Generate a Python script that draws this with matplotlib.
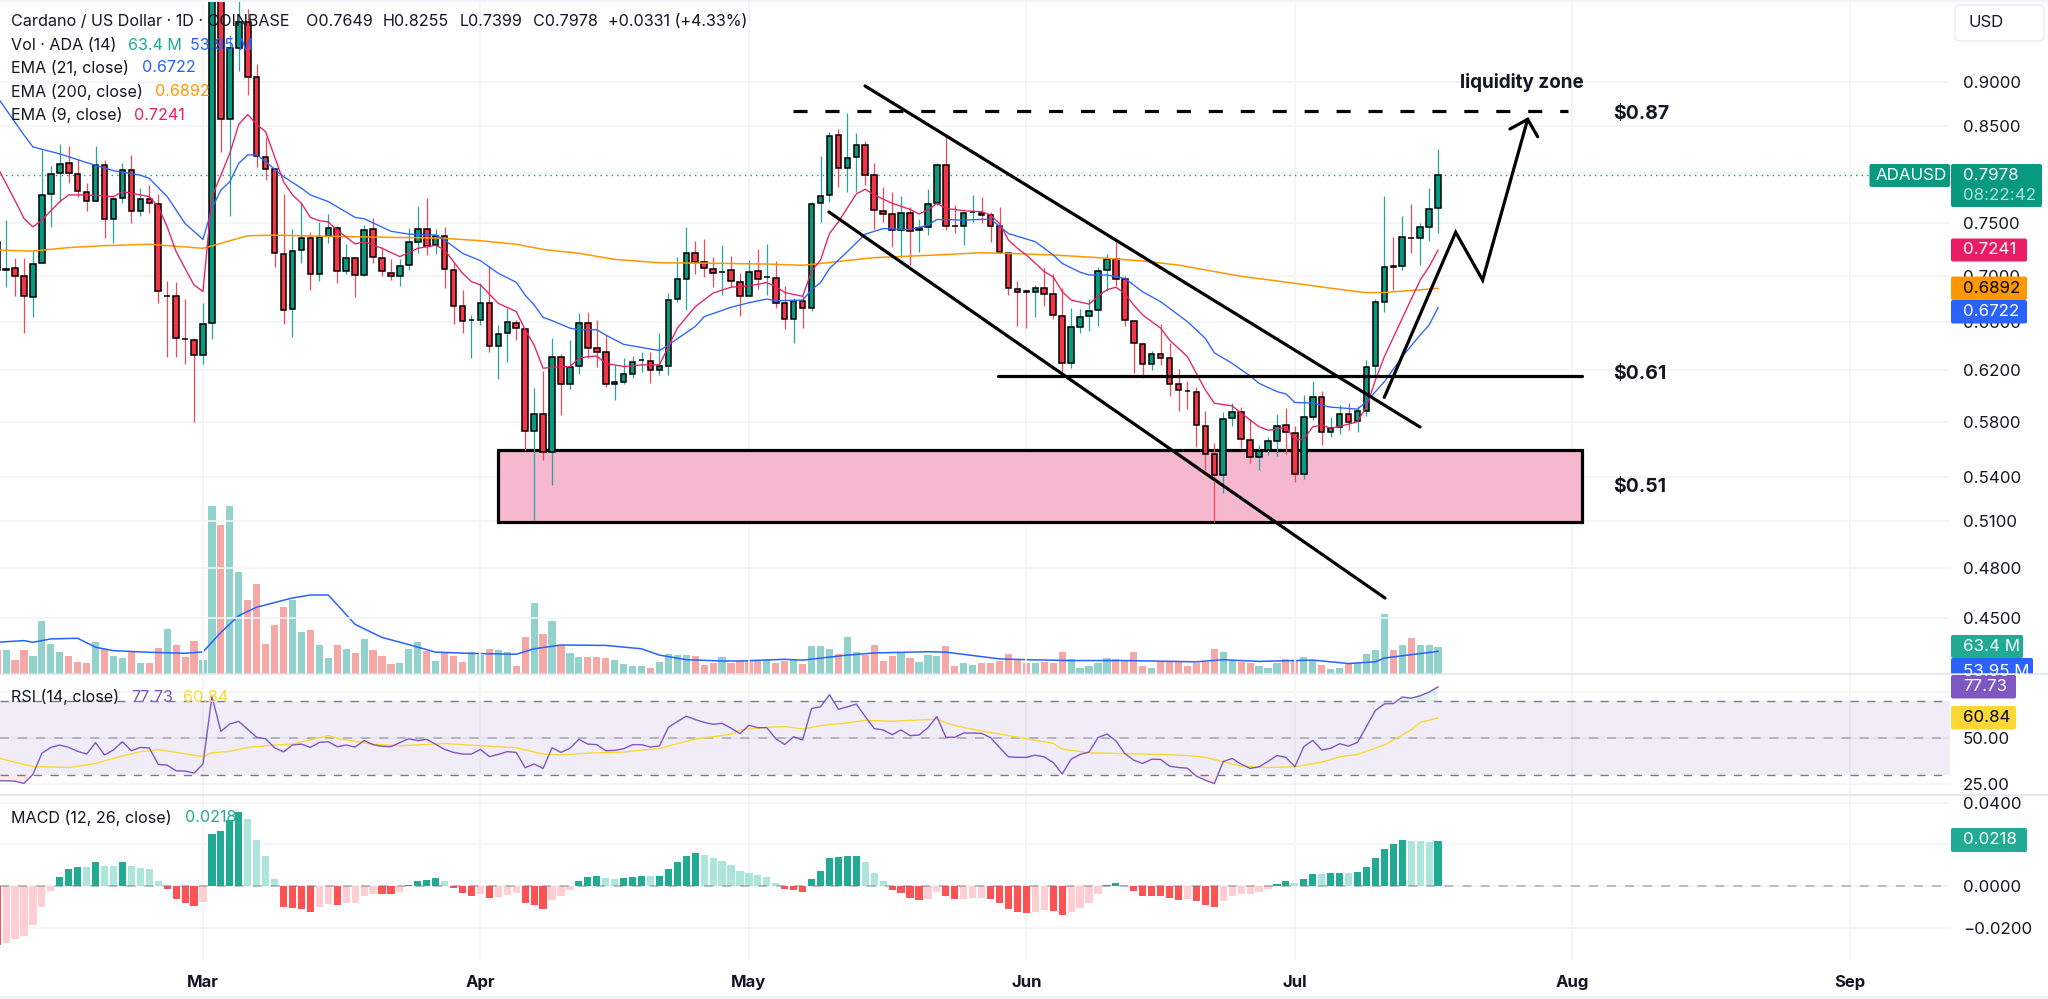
import numpy as np
import matplotlib
matplotlib.use('Agg')
import matplotlib.pyplot as plt
from matplotlib.patches import FancyBboxPatch, Rectangle

plt.rcParams['font.family'] = ['Inter', 'DejaVu Sans']

# days are counted from 1 Mar, first candle is 23 days before
first_day = -23
month_days = [0, 31, 61, 92, 122, 153, 184]
month_names = ['Mar', 'Apr', 'May', 'Jun', 'Jul', 'Aug', 'Sep']

opens = [.7320, .7060, .7071, .7002, .6815, .7118, .7784, .8003, .8105, .7988,
         .7804, .7713, .8085, .7534, .7743, .8030, .7617, .7733, .7686, .6826,
         .6820, .6458, .6443, .6322, .6590, 1.07, .8574, .9403, .9731, .9056,
         .8172, .8047, .7205, .6710, .7239, .7352, .7021, .7373, .7456, .7046,
         .7171, .7012, .7440, .7171, .7034, .7006, .7102, .7314, .7440, .7289,
         .7378, .7059, .6738, .6615, .6612, .6765, .6399, .6502, .6593, .6540,
         .5732, .5857, .5579, .6309, .6090, .6234, .6593, .6377, .6350, .6088,
         .6108, .6168, .6281, .6273, .6200, .6237, .6800, .6980, .7214, .7127,
         .7065, .7040, .7056, .6952, .6821, .7050, .6992, .6983, .6760, .6621,
         .6782, .6717, .7693, .7773, .8407, .8055, .8168, .8292, .7981, .7620,
         .7584, .7430, .7597, .7430, .7462, .7693, .8089, .7471, .7467, .7607,
         .7600, .7577, .7469, .7214, .6884, .6865, .6861, .6893, .6841, .6649,
         .6259, .6552, .6647, .6703, .7053, .7158, .6972, .6610, .6415, .6248,
         .6330, .6295, .6087, .6036, .6028, .5770, .5560, .5416, .5825, .5875,
         .5666, .5543, .5592, .5654, .5775, .5717, .5423, .5837, .5991, .5725,
         .5757, .5857, .5802, .5883, .6237, .6774, .7093, .7091, .7358, .7352,
         .7465, .7649]
highs = [.7400, .7528, .7165, .7165, .7242, .8237, .8075, .8306, .8285, .8143,
         .7895, .8285, .8136, .7760, .8109, .8190, .7845, .7880, .7787, .6957,
         .6949, .6794, .6460, .6759, 1.17, 1.19, .9566, 1.02, .9890, .9212,
         .8385, .8050, .7787, .7443, .7693, .7414, .7511, .7587, .7469, .7299,
         .7180, .7477, .7548, .7274, .7155, .7155, .7456, .7667, .7743, .7440,
         .7459, .7118, .6879, .6657, .6937, .7093, .6573, .6717, .6615, .6545,
         .6056, .6194, .6460, .6330, .6446, .6673, .6688, .6615, .6488, .6242,
         .6295, .6317, .6344, .6344, .6507, .6850, .7180, .7459, .7330, .7348,
         .7180, .7289, .7186, .7030, .7149, .7251, .7299, .7136, .6914, .6803,
         .6821, .7703, .8183, .8440, .8464, .8648, .8421, .8338, .8102, .7852,
         .7811, .7767, .7653, .7538, .7838, .8109, .8403, .7673, .7600, .7777,
         .7753, .7610, .7653, .7217, .6954, .6879, .6922, .7071, .7024, .6893,
         .6723, .6708, .6797, .7081, .7205, .7320, .7000, .6615, .6424, .6358,
         .6582, .6424, .6212, .6116, .6069, .5880, .5645, .5872, .5940, .5910,
         .5817, .5628, .5689, .5860, .5905, .5767, .6002, .6116, .6038, .5837,
         .5927, .5945, .5920, .6278, .6794, .7767, .7367, .7568, .7686, .7495,
         .7848, .8255]
lows = [.7000, .6908, .6821, .6509, .6644, .7118, .7462, .7710, .7900, .7753,
        .7620, .7713, .7352, .7311, .7700, .7503, .7568, .7594, .6759, .6303,
        .6303, .6250, .5795, .6250, .6452, .8226, .7568, .9132, .8848, .8068,
        .7928, .7084, .6583, .6474, .7120, .6879, .6960, .7311, .6943, .7018,
        .6811, .7003, .7118, .7000, .6966, .6917, .7059, .7211, .7196, .7205,
        .6893, .6581, .6509, .6295, .6573, .6350, .6131, .6268, .6446, .5592,
        .5107, .5519, .5343, .5850, .6053, .6168, .6295, .6229, .6069, .5965,
        .6090, .6135, .6186, .6095, .6160, .6160, .6773, .6703, .7018, .6995,
        .6908, .6830, .6902, .6650, .6821, .6888, .6830, .6717, .6538, .6424,
        .6549, .6697, .7511, .7703, .7855, .7811, .7811, .7877, .7440, .7508,
        .7274, .7180, .7102, .7224, .7383, .7673, .7433, .7405, .7293, .7508,
        .7495, .7320, .7211, .6830, .6568, .6546, .6637, .6738, .6621, .6186,
        .6215, .6502, .6524, .6568, .6865, .6914, .6565, .6178, .6141, .6205,
        .6242, .5999, .5883, .5898, .5611, .5447, .5096, .5291, .5770, .5609,
        .5500, .5452, .5555, .5548, .5562, .5364, .5388, .5810, .5628, .5689,
        .5712, .5737, .5725, .5845, .6168, .6682, .6879, .7053, .7217, .7102,
        .7330, .7399]
closes = [.7056, .7065, .7006, .6821, .7112, .7777, .7988, .8099, .8003, .7814,
          .7713, .8085, .7535, .7733, .8030, .7617, .7733, .7693, .6867, .6820,
          .6460, .6455, .6322, .6579, 1.07, .8574, .9403, .9731, .9064, .8179,
          .8047, .7211, .6703, .7236, .7352, .7021, .7362, .7456, .7046, .7171,
          .7015, .7432, .7174, .7046, .7006, .7097, .7314, .7440, .7283, .7375,
          .7062, .6738, .6607, .6618, .6765, .6399, .6496, .6595, .6546, .5732,
          .5855, .5579, .6303, .6090, .6229, .6587, .6377, .6344, .6090, .6103,
          .6168, .6262, .6285, .6200, .6235, .6788, .6972, .7214, .7133, .7071,
          .7034, .7043, .6960, .6821, .7043, .6980, .6995, .6765, .6621, .6782,
          .6717, .7686, .7763, .8396, .8055, .8161, .8292, .7985, .7624, .7591,
          .7430, .7594, .7420, .7456, .7686, .8085, .7475, .7466, .7594, .7610,
          .7581, .7472, .7227, .6893, .6858, .6860, .6893, .6841, .6655, .6254,
          .6555, .6644, .6697, .7050, .7155, .6980, .6615, .6418, .6248, .6330,
          .6300, .6090, .6040, .6033, .5773, .5565, .5416, .5820, .5875, .5669,
          .5543, .5586, .5654, .5770, .5720, .5421, .5837, .5988, .5725, .5752,
          .5855, .5800, .5877, .6224, .6771, .7088, .7089, .7364, .7354, .7462,
          .7640, .7978]

ema21_days = [-23, -20, -19, -16, -13, -10, -7, -6, -4, -2, 0, 1, 2, 3, 4, 5, 6, 7, 9, 11, 12, 14, 17, 18, 21, 23, 26, 27,
              29, 31, 33, 35, 36, 37, 38, 39, 41, 42, 44, 45, 47, 51, 52, 55, 56, 59, 61, 63, 64, 67, 68, 69, 70, 72, 74,
              76, 79, 81, 82, 85, 88, 90, 93, 95, 96, 98, 99, 101, 103, 105, 107, 110, 112, 113, 115, 117, 118, 120, 121,
              122, 124, 126, 129, 130, 132, 134, 136, 137, 138]
ema21_vals = [.8830, .8403, .8275, .8201, .8109, .8025, .7978, .7945, .7760, .7495, .7342, .7640, .7827, .7911, .8102,
              .8190, .8190, .8119, .7962, .7845, .7777, .7710, .7554, .7541, .7420, .7392, .7383, .7336, .7211, .7143,
              .7027, .6946, .6832, .6745, .6638, .6610, .6546, .6532, .6532, .6488, .6410, .6359, .6405, .6560, .6644,
              .6725, .6765, .6797, .6782, .6788, .6879, .6943, .7071, .7227, .7392, .7446, .7436, .7478, .7534, .7528,
              .7538, .7398, .7320, .7196, .7118, .7037, .7012, .7012, .6981, .6861, .6774, .6601, .6460, .6341, .6254,
              .6153, .6095, .6030, .6012, .5946, .5941, .5910, .5895, .5952, .6108, .6309, .6488, .6573, .6722]
ema9_days = [-23, -21, -20, -19, -18, -16, -15, -13, -10, -9, -6, -5, -4, -3, -2, -1, 0, 1, 2, 3, 4, 5, 6, 7, 8, 9, 10, 11,
             12, 13, 14, 15, 17, 18, 20, 22, 24, 26, 27, 29, 30, 31, 33, 35, 36, 37, 38, 39, 41, 42, 43, 44, 45, 47, 49,
             51, 52, 53, 55, 57, 59, 61, 63, 64, 65, 67, 68, 69, 70, 71, 73, 74, 75, 77, 79, 80, 81, 82, 83, 85, 87, 88,
             89, 90, 91, 92, 94, 95, 96, 97, 99, 100, 101, 102, 103, 104, 105, 107, 108, 110, 111, 112, 113, 115, 116,
             118, 119, 120, 121, 122, 123, 124, 125, 126, 128, 129, 130, 131, 132, 134, 136, 137, 138]
ema9_vals = [.8068, .7720, .7544, .7462, .7528, .7710, .7777, .7777, .7760, .7811, .7760, .7660, .7462, .7227, .7071,
             .6922, .6864, .7760, .7978, .8208, .8520, .8630, .8520, .8440, .8172, .7911, .7777, .7693, .7554, .7522,
             .7511, .7430, .7299, .7320, .7258, .7180, .7258, .7286, .7242, .7027, .6952, .6922, .6759, .6688, .6532,
             .6405, .6215, .6223, .6229, .6295, .6309, .6314, .6254, .6229, .6242, .6242, .6391, .6546, .6730, .6850,
             .6902, .6914, .6943, .6908, .6855, .6821, .7046, .7149, .7398, .7511, .7787, .7835, .7777, .7693, .7633,
             .7587, .7627, .7693, .7643, .7620, .7610, .7577, .7495, .7336, .7258, .7196, .7043, .6995, .6864, .6788,
             .6753, .6821, .6879, .6902, .6844, .6745, .6658, .6546, .6446, .6309, .6173, .6043, .5940, .5920, .5865,
             .5762, .5737, .5742, .5762, .5664, .5669, .5762, .5775, .5750, .5782, .5800, .5915, .6121, .6309, .6630,
             .6966, .7088, .7241]
ema200_days = [-23, -19, -15, -11, -6, 0, 2, 5, 8, 11, 17, 24, 27, 31, 35, 38, 42, 46, 51, 58, 63, 67, 70, 75, 82, 87, 92,
               95, 100, 105, 109, 116, 122, 126, 130, 132, 135, 138]
ema200_vals = [.7242, .7232, .7265, .7283, .7296, .7258, .7305, .7377, .7383, .7377, .7367, .7358, .7352, .7330, .7296,
               .7248, .7211, .7155, .7124, .7118, .7112, .7100, .7127, .7171, .7196, .7217, .7205, .7196, .7171, .7140,
               .7102, .7000, .6937, .6893, .6853, .6855, .6873, .6892]

# volume in millions
volumes = [57, 57, 34, 56, 44, 127, 72, 52, 42, 29, 25, 75, 60, 44, 39, 52, 25, 25, 63, 108,
           68, 41, 79, 34, 401, 354, 401, 242, 175, 213, 72, 117, 159, 175, 101, 105, 68, 37, 68, 60,
           51, 84, 56, 42, 23, 27, 60, 75, 54, 31, 52, 42, 29, 52, 45, 60, 57, 52, 20, 89,
           170, 96, 127, 69, 51, 40, 40, 41, 37, 34, 23, 18, 18, 15, 29, 47, 46, 46, 42, 22,
           25, 41, 25,
           32, 32, 32, 33, 27, 32, 34, 24, 67, 67, 60, 48, 89, 53, 46, 70, 30, 44, 50, 37,
           29, 46, 44, 67, 19, 26, 22, 27, 25, 32, 48, 36, 25, 25, 29, 26, 52, 36, 14, 20,
           25, 37, 36, 32, 52, 19, 14, 29, 29, 29, 20, 27, 28, 60, 52, 33, 29, 25, 20, 15,
           25, 36, 30, 41, 33, 22, 13, 15, 25, 25, 48, 57, 142, 58, 68, 85, 68, 68, 63.4]
volume_sides = ('rgrrggggrr' 'rgrggrgrrg' 'rrrggrggrr' 'rrrggrggrg' 'rgrrrgggrg' 'rrrggrggrr' 'grgrggrrrg' 'gggrggggrr'
                'rgrrrrgrrg' 'rgggrggrrr' 'rgrgggrrgg' 'rrrrrrgrrr' 'gggggrrrrg' 'rrrrrrrggr' 'rgggrrggrg' 'grggggrgrg' 'gg')
vol_ma_days = [-23, -20, -19, -17, -14, -12, -10, -6, -2, 0, 2, 4, 6, 10, 12, 14, 17, 20, 23, 26, 30, 35, 37, 40, 45, 49,
               51, 54, 58, 60, 65, 67, 72, 75, 81, 83, 86, 89, 92, 97, 103, 111, 114, 118, 124, 128, 131, 132, 135, 138]
vol_ma_vals = [75.5, 79.5, 75.5, 83.5, 85, 63.6, 55.6, 51.7, 49.3, 52.5, 99, 139, 159, 181, 188, 188, 118, 87, 70, 52, 49,
               47, 60, 69, 68, 60, 45, 34, 31, 31, 35, 33, 45, 50, 53, 52, 44, 36, 34, 32, 32, 29, 34, 30, 33, 25, 29, 38,
               46, 53.95]

rsi_vals = [26.8, 26.8, 26.6, 25.4, 30.3, 41.7, 44.9, 46.2, 44.9, 42.8,
            41.3, 47.5, 40.8, 43.5, 48, 43.1, 44.9, 44.6, 35.7, 35.3,
            32.2, 32.1, 31, 35.9, 72.5, 53.6, 57.6, 59, 54.7, 50.4,
            49.6, 44.7, 42.5, 46.2, 46.7, 44.9, 47.6, 48, 45.3, 46.2,
            45.1, 48.6, 46.4, 45.5, 45.3, 47.5, 49.6, 48.6, 49.3, 46.6,
            43.8, 42.2, 41.3, 41.3, 43.8, 39.9, 41.1, 42.6, 42.2, 33.9,
            35.9, 33.5, 44.7, 42.2, 44.4, 49.3, 46.7, 46.4, 43.1, 43.3,
            44.2, 46.4, 46.4, 45.1, 45.7, 55.8, 58.9, 61.8, 60, 58.5,
            57.4, 58, 55.3, 52.4, 56.9, 55.6, 55.6, 49.6, 46.5, 50.7,
            48.9, 66, 66.9, 73.5, 65.6, 66.9, 68.4, 61.6, 55.1, 54.4,
            51.8, 54.4, 51.3, 51.6, 55.6, 61.6, 50.4, 50.4, 52.7, 52.7,
            52.5, 50.2, 44.9, 39.8, 39.5, 39.5, 40.7, 39.8, 36.7, 30.5,
            38.5, 41.1, 42.4, 50.2, 52.2, 48.5, 41.6, 38, 36.2, 38.5,
            38.4, 34.7, 34, 33.6, 29.3, 27.1, 25.3, 37.3, 38.9, 35.8,
            33.5, 34.4, 37.3, 40.5, 39.5, 34.4, 45.3, 48.7, 43.5, 44.4,
            46.9, 45.6, 47.6, 56.2, 64.9, 68.5, 68.7, 72.2, 71.6, 72.9,
            74.9, 77.73]
rsi_ma_days = [-23, -21, -19, -15, -12, -10, -7, -5, -3, 0, 1, 3, 5, 8, 10, 14, 15, 19, 22, 27, 31, 35, 38, 40, 43, 47, 51,
               55, 59, 60, 63, 65, 67, 69, 72, 74, 77, 82, 84, 87, 90, 95, 96, 99, 103, 107, 110, 112, 116, 119, 122, 125,
               127, 129, 132, 135, 136, 138]
rsi_ma_vals = [39.5, 36.8, 34.6, 34, 36.2, 39, 42.6, 43.7, 42.2, 39.9, 42, 42.8, 44.9, 46.2, 46.7, 51.3, 49.8, 46.6, 45.8,
               47, 45.8, 44.7, 41.3, 40.8, 41.8, 42.4, 44.4, 49.5, 52, 54.4, 55.8, 56.2, 54.9, 56.7, 58.2, 59.6, 59.1,
               60.2, 56.7, 53.8, 51.3, 47.1, 44, 42, 41.5, 41.1, 40.5, 39.5, 34.7, 34, 34.4, 36.9, 39.8, 41.1, 46.2, 54.4,
               58.4, 60.84]

# histogram in units of 1e-4
macd_hist = [-283, -275, -254, -240, -187, -102, -22, 45, 80, 93,
             93, 115, 96, 96, 114, 96, 88, 82, 24, -16,
             -61, -80, -94, -77, 250, 266, 317, 355, 320, 221,
             144, 34, -99, -104, -110, -126, -99, -86, -93, -83,
             -82, -48, -38, -38, -38, -27, 5, 22, 29, 40,
             24, -10, -34, -46, -40, -58, -53, -42, -34, -80,
             -90, -110, -67, -48, -18, 26, 42, 50, 38, 34,
             37, 43, 50, 48, 50, 83, 115, 146, 157, 149,
             133, 122, 99, 70, 62, 53, 43, 16, -14, -18,
             -27, 32, 72, 133, 139, 142, 144, 114, 62, 24,
             -19, -34, -58, -67, -61, -27, -48, -61, -60, -58,
             -57, -61, -80, -110, -125, -128, -125, -117, -118, -139,
             -125, -106, -80, -38, 5, 14, 5, -24, -46, -48,
             -49, -59, -67, -64, -72, -91, -99, -72, -46, -37,
             -36, -27, -14, 10, 22, 13, 34, 59, 58, 61,
             63, 62, 67, 91, 136, 179, 200, 219, 218, 216,
             211, 218]

price_ticks = [.90, .85, .80, .75, .70, .66, .62, .58, .54, .51, .48, .45]
last_close = .7978

GREEN = '#089981'
RED = '#F23645'
INK = '#131722'
GRID = '#F2F3F6'
LINE_BLUE = '#2962FF'
LINE_PINK = '#E91E63'
LINE_ORANGE = '#FF9800'
PURPLE = '#7E57C2'
YELLOW = '#FDD835'
TEAL = '#22AB94'

W, H = 2048, 999
PANE_R = 1950


def pane(top, bottom):
    return [0, 1 - bottom / H, PANE_R / W, (bottom - top) / H]


fig = plt.figure(figsize=(W / 100, H / 100), dpi=100)
ax_vol = fig.add_axes(pane(0, 674), zorder=1)
ax = fig.add_axes(pane(0, 674), zorder=2)
ax_rsi = fig.add_axes(pane(674, 795), zorder=2)
ax_macd = fig.add_axes(pane(795, 960), zorder=2)
over = fig.add_axes([0, 0, 1, 1], zorder=10)
over.set_xlim(0, W)
over.set_ylim(H, 0)
over.axis('off')

days = first_day + np.arange(len(closes))
xlim = (-22.68, 195.2)

for a in (ax, ax_rsi, ax_macd):
    a.set_xlim(xlim)
    a.patch.set_visible(False)
    a.yaxis.tick_right()
    a.tick_params(length=0, pad=9.4, labelsize=12.2, labelcolor=INK)
    a.set_xticks(month_days)
    a.grid(True, color=GRID, lw=1.2)
    a.set_axisbelow(True)
    for s in a.spines.values():
        s.set_visible(False)
    if a is not ax_macd:
        a.tick_params(labelbottom=False)

# volume
ax_vol.set_xlim(xlim)
ax_vol.set_ylim(0, 1604)
ax_vol.axis('off')
vol_colors = ['#26A69A' if s == 'g' else '#EF5350' for s in volume_sides]
ax_vol.bar(days, volumes, width=0.8, color=vol_colors, alpha=0.5, lw=0)
ax_vol.plot(vol_ma_days, vol_ma_vals, color=LINE_BLUE, lw=1.1)

# price, the 0.80 line has its label under the last price tag
ax.set_yscale('log')
ax.set_ylim(.4185, 1.0007)
ax.set_yticks(price_ticks)
ax.set_yticklabels(['' if p == .80 else '%.4f' % p for p in price_ticks])
ax.minorticks_off()
ax.axhline(last_close, color=GREEN, lw=1, ls=(0, (1, 3)), zorder=1.5)

# support box under the candles
ax.add_patch(Rectangle((32.92, .5092), 154.05 - 32.92, .5590 - .5092, facecolor='#F5B8CE', edgecolor='black', lw=2.3, zorder=1.6))

opens = np.array(opens)
closes = np.array(closes)
highs = np.array(highs)
lows = np.array(lows)
up = closes >= opens
ax.vlines(days[up], lows[up], highs[up], color='#26A69A', lw=0.9, zorder=2)
ax.vlines(days[~up], lows[~up], highs[~up], color='#F2495A', lw=0.9, zorder=2)
body_low = np.minimum(opens, closes)
body_high = np.maximum(opens, closes)
ax.bar(days, body_high - body_low, bottom=body_low, width=0.62,
       color=[GREEN if u else RED for u in up], edgecolor='black', lw=1.1, zorder=3)

ax.plot(ema200_days, ema200_vals, color=LINE_ORANGE, lw=1.1, zorder=4)
ax.plot(ema21_days, ema21_vals, color=LINE_BLUE, lw=0.95, zorder=4)
ax.plot(ema9_days, ema9_vals, color=LINE_PINK, lw=0.95, zorder=4)

# hand drawn lines
draw = dict(color='black', lw=2.3, zorder=6, solid_capstyle='round', solid_joinstyle='miter')
ax.plot([73.97, 135.98], [.8954, .5760], **draw)
ax.plot([69.94, 132.07], [.7607, .4617], **draw)
ax.plot([88.88, 154.05], [.6157, .6157], **draw)
ax.plot([65.92, 152.5], [.8669, .8669], color='black', lw=2.3, zorder=6, ls=(0, (4.4, 5.6)))
ax.plot([131.99, 139.97, 142.98, 148.01], [.5985, .7410, .6966, .8576], **draw)
ax.plot([146.03, 148.01, 149.13], [.8469, .8576, .8385], **draw)

# rsi, 75.00 sits under the rsi tag
ax_rsi.set_ylim(19.1, 84.7)
ax_rsi.set_yticks([75, 50, 25])
ax_rsi.set_yticklabels(['', '50.00', '25.00'])
ax_rsi.axhspan(30, 70, color=PURPLE, alpha=0.1, lw=0)
ax_rsi.axhline(70, color='#787B86', lw=1, ls=(0, (6, 6)))
ax_rsi.axhline(30, color='#787B86', lw=1, ls=(0, (6, 6)))
ax_rsi.axhline(50, color='#787B86', lw=1.3, ls=(0, (5, 5)), alpha=0.5)
rsi_arr = np.array(rsi_vals)
ax_rsi.fill_between(days, 70, rsi_arr, where=rsi_arr > 70, color='#26A69A', alpha=0.12, lw=0, interpolate=True)
ax_rsi.fill_between(days, 30, rsi_arr, where=rsi_arr < 30, color='#EF5350', alpha=0.12, lw=0, interpolate=True)
ax_rsi.plot(rsi_ma_days, rsi_ma_vals, color=YELLOW, lw=1)
ax_rsi.plot(days, rsi_vals, color=PURPLE, lw=1)

# macd histogram
hist = np.array(macd_hist) * 1e-4
macd_colors = []
for i, v in enumerate(hist):
    rising = i > 0 and v > hist[i - 1]
    if v >= 0:
        macd_colors.append('#22AB94' if rising else '#ACE5DC')
    else:
        macd_colors.append('#FFCDD2' if rising else '#FF5252')
ax_macd.set_ylim(-.0355, .0437)
ax_macd.set_yticks([.04, .02, 0, -.02])
ax_macd.set_yticklabels(['0.0400', '', '0.0000', '\u22120.0200'])
ax_macd.bar(days, hist, width=0.8, color=macd_colors, lw=0)
ax_macd.axhline(0, color='#787B86', lw=1.3, ls=(0, (5, 5)), alpha=0.5)
ax_macd.set_xticklabels(month_names, fontweight='bold', fontsize=12, color=INK)
ax_macd.tick_params(axis='x', pad=11)

# separators and top / bottom strips
over.add_patch(Rectangle((0, 0), W, 1.5, color='#F0F3FA', lw=0))
over.add_patch(Rectangle((0, 996), W, 3, color='#F0F3FA', lw=0))


def label(x, y, s, color=INK, size=11.6, **kw):
    return over.text(x, y, s, color=color, fontsize=size, va='center', **kw)


def tag(x0, x1, y0, y1, s, bg, fg='white', tx=1963, **kw):
    over.add_patch(FancyBboxPatch((x0 + 1, y0 + 1), x1 - x0 - 2, y1 - y0 - 2, boxstyle='round,pad=1,rounding_size=2',
                                  facecolor=bg, edgecolor='none', mutation_aspect=1))
    if s:
        label(tx, (y0 + y1) / 2, s, color=fg, size=12.2, **kw)


# legend rows
label(11, 21.5, 'Cardano / US Dollar \u00b7 1D \u00b7 COINBASE')
label(306, 21.5, 'O0.7649')
label(383, 21.5, 'H0.8255')
label(460, 21.5, 'L0.7399')
label(533.5, 21.5, 'C0.7978')
label(608, 21.5, '+0.0331 (+4.33%)')
label(11, 45, 'Vol \u00b7 ADA (14)')
label(128, 45, '63.4 M', color=TEAL)
label(190, 45, '53.95 M', color=LINE_BLUE)
label(11, 68, 'EMA (21, close)')
label(141.7, 68, '0.6722', color=LINE_BLUE)
label(11, 92, 'EMA (200, close)')
label(155, 92, '0.6892', color=LINE_ORANGE)
label(11, 115, 'EMA (9, close)')
label(134, 115, '0.7241', color=LINE_PINK)
label(11, 697, 'RSI (14, close)')
label(131.6, 697, '77.73', color=PURPLE)
label(183, 697, '60.84', color=YELLOW)
label(11, 818, 'MACD (12, 26, close)')
label(184.7, 818, '0.0218', color=TEAL)

# drawing labels
label(1460, 82, 'liquidity zone', size=13.6, fontweight='bold')
label(1613, 114, '$0.87', size=14, fontweight='bold')
label(1613, 374, '$0.61', size=14, fontweight='bold')
label(1613, 487, '$0.51', size=14, fontweight='bold')

# right scale tags
over.add_patch(FancyBboxPatch((1956, 6), 87, 34, boxstyle='round,pad=1,rounding_size=5', facecolor='white', edgecolor='#E0E3EB', lw=0.7))
label(1968, 22.5, 'USD', size=12)
tag(1869.5, 1950, 164, 187, 'ADAUSD', GREEN, tx=1876)
tag(1951, 2042, 164, 207, '', GREEN)
label(1963, 175, '0.7978', color='white', size=12.2)
label(1963, 195, '08:22:42', color='#B5E3D8', size=12.2)
tag(1951, 2027, 238.5, 261.5, '0.7241', '#EC1C64')
tag(1951, 2027, 276.5, 300, '0.6892', LINE_ORANGE, fg='black')
tag(1951, 2027, 300, 323.5, '0.6722', LINE_BLUE)
tag(1951, 2033, 658, 684, '53.95 M', LINE_BLUE)
tag(1951, 2023, 635, 658, '63.4 M', TEAL)
over.add_patch(Rectangle((1951, 674), W - 1951, 18, color='white', lw=0))
tag(1951, 2016, 675, 698.5, '77.73', PURPLE)
tag(1951, 2016, 706, 729.5, '60.84', YELLOW, fg='black')
tag(1951, 2027, 828, 852, '0.0218', TEAL)
over.plot([0, W], [674, 674], color='#E0E3EB', lw=1.1)
over.plot([0, W], [795, 795], color='#E0E3EB', lw=1.1)

fig.savefig('out.png', dpi=100)
